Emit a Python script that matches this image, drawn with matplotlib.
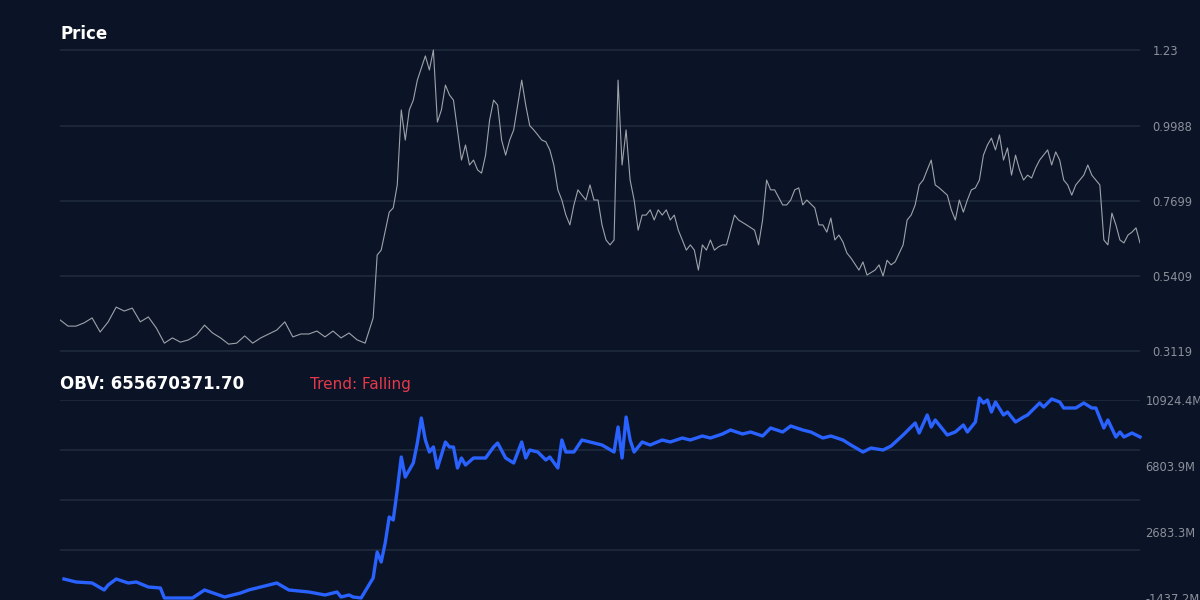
import matplotlib
matplotlib.use("Agg")
import matplotlib.pyplot as plt

price_days = [0,2,4,6,8,10,12,14,16,18,20,22,24,26,28,30,32,34,36,38,40,42,44,46,48,50,52,54,56,58,60,62,64,66,68,70,72,74,76,
 78,79,80,82,83,84,85,86,87,88,89,90,91,92,93,94,95,96,97,98,99,100,101,102,103,104,105,106,107,108,109,110,111,112,113,114,115,116,117,118,119,120,121,122,123,124,125,126,127,128,129,130,131,132,133,134,135,136,137,138,139,140,141,142,143,144,145,146,147,148,149,150,151,152,153,154,155,156,157,158,159,160,161,162,163,164,165,166,167,168,169,171,173,174,175,176,177,178,180,181,182,183,184,185,186,188,189,190,191,192,193,194,195,196,197,199,200,201,203,204,205,206,207,208,210,211,212,213,214,215,216,217,218,219,221,222,223,224,225,226,227,228,229,230,231,232,233,234,235,236,237,238,239,240,241,242,243,244,246,247,248,249,250,251,252,253,255,256,257,258,259,260,261,262,263,264,265,266,267,268,269]
price = [.406,.387,.387,.397,.412,.369,.400,.445,.433,.442,.400,.415,.381,.335,.351,.338,.345,.360,.390,.366,.351,.332,.335,.357,.335,.351,.363,.375,.400,.354,.363,.363,.372,.354,.372,.351,.366,.345,.335,
 .412,.604,.619,.735,.748,.818,1.047,.955,1.047,1.077,1.138,1.175,1.212,1.169,1.230,1.010,1.047,1.123,1.093,1.077,.986,.894,.940,.879,.894,.864,.854,.909,1.016,1.077,1.062,.955,.909,.955,.986,1.062,1.138,1.062,.999,.986,.971,.955,.950,.925,.879,.803,.772,.726,.696,.757,.803,.787,.772,.818,.772,.772,.696,.650,.635,.650,1.138,.879,.986,.833,.772,.680,.726,.726,.742,.711,.742,.726,.742,.711,.726,.680,.650,.619,.635,.619,.558,.635,.619,.650,.619,.629,.635,.635,.680,.726,.711,.696,.680,.635,.711,.833,.803,.803,.757,.757,.772,.803,.809,.757,.772,.748,.696,.696,.674,.717,.650,.665,.644,.610,.595,.558,.583,.543,.558,.574,.540,.588,.574,.583,.635,.711,.726,.757,.818,.833,.864,.894,.818,.809,.787,.742,.711,.772,.735,.772,.803,.809,.833,.909,.940,.961,.925,.971,.894,.931,.848,.909,.864,.833,.848,.839,.870,.894,.925,.879,.919,.894,.833,.818,.787,.818,.848,.879,.848,.833,.818,.650,.635,.732,.696,.650,.641,.665,.674,.687,.641]

obv_days = [1,4,8,11,12,14,17,19,22,25,26,28,33,36,41,45,47,50,54,57,62,66,69,70,72,73,75,
 78,79,80,81,82,83,84,85,86,88,89,90,91,92,93,94,96,97,98,99,100,101,103,106,108,109,111,113,115,116,117,119,121,122,124,125,126,128,130,132,135,138,139,140,141,142,143,145,147,150,152,155,157,160,162,165,167,170,172,175,177,180,182,185,187,190,192,195,197,200,202,205,207,210,213,214,216,217,218,221,223,225,226,228,229,230,231,232,233,235,236,238,240,241,244,245,247,249,250,253,255,257,258,260,261,263,264,265,267,269]
obv_m = [-251,-438,-500,-937,-625,-251,-500,-438,-750,-812,-1437,-1437,-1437,-937,-1374,-1124,-937,-750,-500,-937,-1062,-1249,-1062,-1374,-1249,-1374,-1437,
 -188,1435,811,1997,3620,3433,5306,7366,6117,6991,8240,9801,8427,7678,7990,6679,8302,7990,7990,6679,7303,6866,7303,7303,7990,8240,7303,6991,8302,7303,7803,7678,7179,7366,6679,8427,7678,7678,8427,8302,8115,7678,9239,7303,9863,8427,7678,8302,8115,8427,8302,8552,8427,8677,8552,8802,9052,8802,8927,8677,9177,8927,9301,9052,8927,8552,8677,8427,8115,7678,7928,7803,8052,8739,9489,8864,9988,9239,9676,8739,8927,9364,8927,9551,11049,10737,10924,10175,10800,9988,10175,9551,9863,9988,10737,10487,10987,10800,10425,10425,10737,10425,10425,9177,9676,8614,8927,8614,8864,8614]

bg = "#0b1426"
grid_c = "#1f2a3c"
tick_c = "#8b909a"
price_ticks = [1.23, 0.9988, 0.7699, 0.5409, 0.3119]
obv_ticks = [10924.4, 6803.9, 2683.3, -1437.2]

fig = plt.figure(figsize=(12, 6), dpi=100, facecolor=bg)

ax1 = fig.add_axes([60/1200, 1-355/600, 1080/1200, 315/600], facecolor=bg)
ax1.set_xlim(0, 269)
ax1.set_ylim(0.2988, 1.2606)
for t in price_ticks:
    ax1.axhline(t, color=grid_c, lw=1.2, zorder=0)
ax1.plot(price_days, price, color="#9ea2aa", lw=0.8)
ax1.set_yticks(price_ticks)
ax1.set_yticklabels(["1.23", "0.9988", "0.7699", "0.5409", "0.3119"])
ax1.yaxis.tick_right()
ax1.tick_params(axis="y", length=0, colors=tick_c, labelsize=8.3, pad=9)
ax1.set_xticks([])
for s in ax1.spines.values():
    s.set_visible(False)

ax2 = fig.add_axes([60/1200, 0, 1080/1200, 200/600], facecolor=bg)
ax2.set_xlim(0, 269)
top, bot = 10924.4, 10924.4 - 200*62.43
ax2.set_ylim(bot, top)
step = (top - bot) / 4
for k in range(4):
    ax2.axhline(top - k*step, color=grid_c, lw=1.2, zorder=0)
ax2.plot(obv_days, obv_m, color="#2962ff", lw=2.4, clip_on=False)
ax2.set_yticks(obv_ticks)
ax2.set_yticklabels([f"{v:.1f}M" for v in obv_ticks])
ax2.yaxis.tick_right()
ax2.tick_params(axis="y", length=0, colors=tick_c, labelsize=8.3, pad=4)
ax2.set_xticks([])
for s in ax2.spines.values():
    s.set_visible(False)

fig.text(60/1200, 1-34/600, "Price", color="white", fontsize=12, fontweight="bold", va="center")
fig.text(60/1200, 1-384/600, "OBV: 655670371.70", color="white", fontsize=12, fontweight="bold", va="center")
fig.text(310/1200, 1-384/600, "Trend: Falling", color="#e5394b", fontsize=11, va="center")

fig.savefig("out.png", dpi=100, facecolor=bg)
